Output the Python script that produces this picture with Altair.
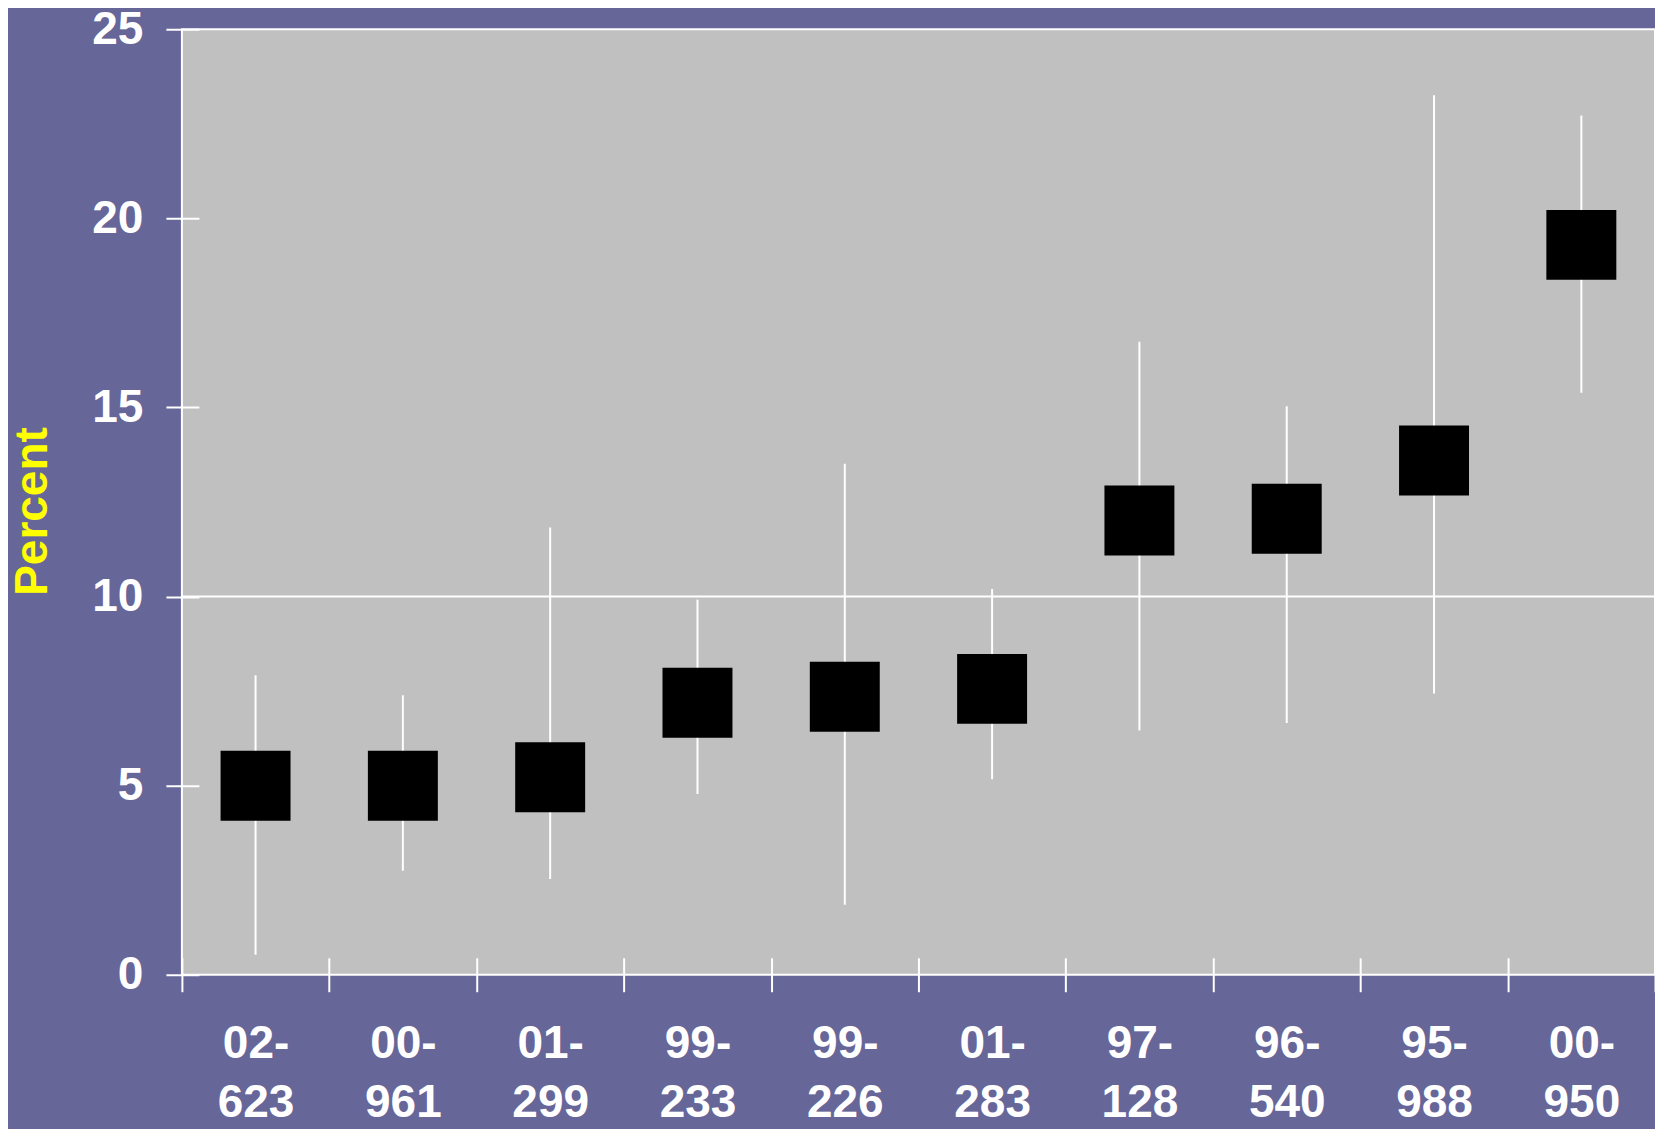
import altair as alt
import pandas as pd

categories = ["02-623", "00-961", "01-299", "99-233", "99-226",
              "01-283", "97-128", "96-540", "95-988", "00-950"]
values = [5.0, 5.0, 5.22, 7.19, 7.35, 7.56, 12.01, 12.06, 13.6, 19.3]
lower = [0.53, 2.75, 2.53, 4.78, 1.85, 5.17, 6.46, 6.66, 7.44, 15.39]
upper = [7.92, 7.39, 11.83, 9.92, 13.51, 10.2, 16.74, 15.03, 23.26, 22.72]
y_ticks = [0, 5, 10, 15, 20, 25]
grid_values = [10]

df = pd.DataFrame({"cat": categories, "val": values, "lo": lower, "hi": upper})
grid_df = pd.DataFrame({"g": grid_values})

FONT = "Liberation Sans"

x_enc = alt.X(
    "cat:N", sort=None, title=None,
    scale=alt.Scale(type="band", paddingInner=0, paddingOuter=0),
    axis=alt.Axis(
        domain=False, offset=-17, tickSize=34, tickWidth=2, tickColor="white",
        tickBand="extent", labelColor="white", labelFont=FONT, labelFontSize=46,
        labelFontWeight="bold", labelPadding=30, labelLineHeight=59,
        labelAngle=0,
        labelExpr="[slice(datum.label,0,3), slice(datum.label,3)]",
    ),
)
y_scale = alt.Scale(domain=[0, 25], nice=False, zero=True)
y_axis = alt.Axis(
    values=y_ticks, domain=False, offset=-17, tickSize=33, tickWidth=2,
    tickColor="white", grid=False, labelColor="white", labelFont=FONT,
    labelFontSize=46, labelFontWeight="bold", labelPadding=23,
    title="Percent", titleColor="#FFFF00", titleFont=FONT, titleFontSize=46,
    titleFontWeight="bold", titleAngle=-90, titleX=-166, titleY=482,
    titleAlign="center", titleBaseline="middle",
)

base = alt.Chart(df)

err = base.mark_rule(color="white", strokeWidth=2).encode(
    x=x_enc,
    y=alt.Y("lo:Q", scale=y_scale, axis=y_axis),
    y2="hi:Q",
)

grid = alt.Chart(grid_df).mark_rule(color="white", strokeWidth=2).encode(
    y=alt.Y("g:Q", scale=y_scale)
)

pts = base.mark_square(size=4900, color="black", opacity=1, strokeWidth=0).encode(
    x=alt.X("cat:N", sort=None),
    y=alt.Y("val:Q", scale=y_scale),
)

chart = alt.layer(err, grid, pts).properties(
    width=1474, height=946,
    autosize=alt.AutoSizeParams(type="none"),
    padding={"left": 174, "top": 21, "right": 0, "bottom": 154},
    background="#666699",
).configure_view(
    fill="#C0C0C0", stroke="white", strokeWidth=2
)

chart.save("out.html", embed_options={"renderer": "svg", "actions": False})
